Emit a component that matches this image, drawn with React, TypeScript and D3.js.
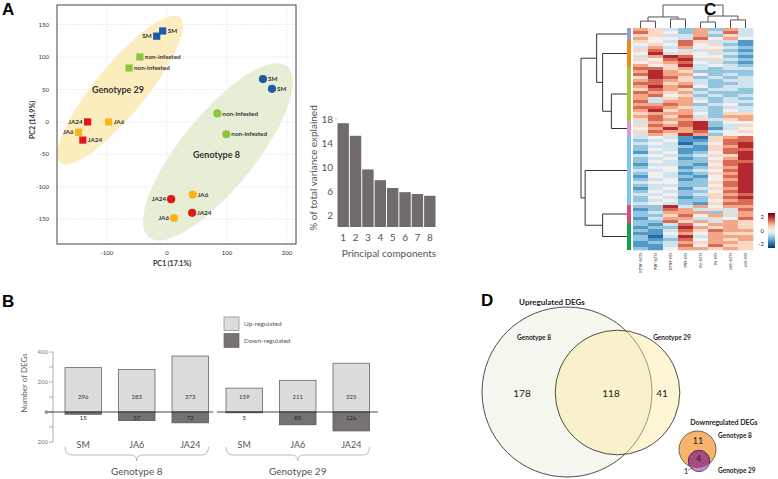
import React from 'react';
import * as d3 from 'd3';

const W = 778, H = 479;
const FONT = "Lato, 'Open Sans', 'Liberation Sans', sans-serif";
const BOLDF = "'Liberation Sans', Arial, sans-serif";

// ---------- Panel A: PCA ----------
const pcaG29 = [
  { cond: 'SM', pc1: -17, pc2: 132 },
  { cond: 'SM', pc1: -7, pc2: 140 },
  { cond: 'non-infested', pc1: -45, pc2: 100 },
  { cond: 'non-infested', pc1: -63, pc2: 83 },
  { cond: 'JA24', pc1: -132, pc2: 0 },
  { cond: 'JA24', pc1: -140, pc2: -28 },
  { cond: 'JA6', pc1: -97, pc2: 0 },
  { cond: 'JA6', pc1: -147, pc2: -16 },
];
const g29Side = ['left', 'right', 'right', 'right', 'left', 'right', 'right', 'left'];
const pcaG8 = [
  { cond: 'SM', pc1: 160, pc2: 66 },
  { cond: 'SM', pc1: 175, pc2: 51 },
  { cond: 'non-infested', pc1: 84, pc2: 13 },
  { cond: 'non-infested', pc1: 99, pc2: -19 },
  { cond: 'JA24', pc1: 7, pc2: -119 },
  { cond: 'JA24', pc1: 42, pc2: -140 },
  { cond: 'JA6', pc1: 43, pc2: -112 },
  { cond: 'JA6', pc1: 12, pc2: -148 },
];
const g8Side = ['right', 'right', 'right', 'right', 'left', 'right', 'right', 'left'];
const condColor: Record<string, string> = {
  SM: '#1f5aa8', 'non-infested': '#8cc63e', JA24: '#e3161b', JA6: '#fbb416',
};
const pcXTicks = [-100, 0, 100, 200];
const pcYTicks = [-150, -100, -50, 0, 50, 100, 150];

// ---------- Scree ----------
const screeComponents = [1, 2, 3, 4, 5, 6, 7, 8];
const screeVariance = [17.3, 15.2, 9.6, 7.8, 6.5, 5.8, 5.5, 5.2];
const screeTicks = [2, 6, 10, 14, 18];

// ---------- Panel B ----------
const degSamples = ['SM', 'JA6', 'JA24'];
const degGenotypes = ['Genotype 8', 'Genotype 29'];
const degUpG8 = [296, 283, 373];
const degDownG8 = [15, 57, 72];
const degUpG29 = [159, 211, 325];
const degDownG29 = [5, 85, 126];
const degTicks = [-200, -100, 0, 100, 200, 300, 400];
const degLabelTicks = [-200, 0, 200, 400];

// ---------- Panel C: heatmap ----------
const heatCols = ['G29-JA24', 'G29-JA6', 'G8-JA24', 'G8-JA6', 'G29-NI', 'G8-NI', 'G29-SM', 'G8-SM'];
// digits 0..8 -> z-score (d-4)/2
const blockLavender = ['65326263', '75426373', '55336253', '64437464'];
const blockOrange = ['54375331', '45474521', '36364432', '57433521', '48354332', '36874421', '54783532', '45674321', '64583432'];
const blockLime = ['77563233', '68652222', '78664232', '58752323', '67653233', '77563223', '68674233', '57652332', '76563222',
  '67452323', '63563232', '73664233', '66762342', '77653233', '68563243', '56664255', '67573266', '57665356'];
const blockPink = ['36578244', '57678235', '46868134', '57667345', '36586244'];
const blockSky = ['34310567', '23411577', '34302478', '23321568', '24311577', '13412478', '34323558', '23412468', '24322577',
  '13321478', '24412568', '33423478', '24312568', '14321478', '23412468', '34422578', '23322478', '13413568', '24322478',
  '33423567', '24312578', '23422467', '34321577'];
const blockMagenta = ['22836466', '12763537', '23666256', '22574636', '13663547', '22756365'];
const blockGreen = ['21374665', '12286565', '21375766', '11464655', '20383666', '21274656', '12365665', '11374755', '21466565'];
const heatBlocks = [blockLavender, blockOrange, blockLime, blockPink, blockSky, blockMagenta, blockGreen];
const blockColors = ['#8e9fd5', '#f08a1d', '#a6c63b', '#e09bc9', '#7dc4ef', '#e5457d', '#15a04a'];
// column dendrogram (merge heights)
const colTree = { h: 10, c: [{ h: 4.8, c: [{ h: 3.0, c: [0, 1] }, { h: 3.9, c: [2, 3] }] }, { h: 5.2, c: [{ h: 2.6, c: [4, 5] }, { h: 3.5, c: [6, 7] }] }] };
// row dendrogram over the 7 blocks
const rowTree = { h: 10, c: [{ h: 6.6, c: [0, { h: 5.3, c: [1, { h: 3.4, c: [2, 3] }] }] }, { h: 9.1, c: [4, { h: 5.3, c: [5, 6] }] }] };
const keyTicks = [2, 0, -2];

// ---------- Panel D: Venn ----------
const upOnlyG8 = 178, upShared = 118, upOnlyG29 = 41;
const downOnlyG8 = 11, downShared = 4, downOnlyG29 = 1;

function dendroLines(node: any, pos: (i: number) => number, hpos: (h: number) => number, vertical: boolean) {
  const segs: string[] = [];
  function rec(n: any): { p: number; h: number } {
    if (typeof n === 'number') return { p: pos(n), h: 0 };
    const kids = n.c.map(rec);
    const p = (kids[0].p + kids[1].p) / 2;
    const hp = hpos(n.h);
    kids.forEach((k: any) => {
      const kh = hpos(k.h);
      if (vertical) segs.push(`M${k.p},${kh}V${hp}`);
      else segs.push(`M${kh},${k.p}H${hp}`);
    });
    if (vertical) segs.push(`M${kids[0].p},${hp}H${kids[1].p}`);
    else segs.push(`M${hp},${kids[0].p}V${kids[1].p}`);
    return { p, h: n.h };
  }
  rec(node);
  return segs.join('');
}

export default function App() {
  // ---- PCA scales
  const x = d3.scaleLinear().domain([-183, 215]).range([57, 296]);
  const y = d3.scaleLinear().domain([-188, 180]).range([244, 5]);

  const renderPoints = (pts: any[], sides: string[], square: boolean) =>
    pts.map((p, i) => {
      const px = x(p.pc1), py = y(p.pc2);
      const left = sides[i] === 'left';
      return (
        <g key={i}>
          {square ? (
            <rect x={px - 3.6} y={py - 3.6} width={7.2} height={7.2} fill={condColor[p.cond]} />
          ) : (
            <circle cx={px} cy={py} r={4.1} fill={condColor[p.cond]} />
          )}
          <text x={left ? px - 5 : px + 5} y={py} dy="0.35em" textAnchor={left ? 'end' : 'start'}
            fontSize={6.3} fontWeight={700} fill="#333">{p.cond}</text>
        </g>
      );
    });

  // ---- Scree
  const sx = d3.scaleBand<number>().domain(screeComponents).range([337.5, 435.5]).paddingInner(0.08);
  const sy = d3.scaleLinear().domain([0, 18]).range([227, 119]);

  // ---- DEG bars
  const by = d3.scaleLinear().domain([-200, 400]).range([442, 352]);
  const bx8 = d3.scaleBand<string>().domain(degSamples).range([65, 208.5]).paddingInner(0.318).paddingOuter(0);
  const bx29 = d3.scaleBand<string>().domain(degSamples).range([226, 369.5]).paddingInner(0.318).paddingOuter(0);
  const groups = [
    { g: degGenotypes[0], sc: bx8, up: degUpG8, down: degDownG8, line: [45, 213] },
    { g: degGenotypes[1], sc: bx29, up: degUpG29, down: degDownG29, line: [217, 378] },
  ];

  // ---- heatmap
  const rows: number[][] = [];
  heatBlocks.forEach((b) => b.forEach((r) => { rows.push(r.split('').map((c) => (+c - 4) / 2)); }));
  const hx = d3.scaleBand<string>().domain(heatCols).range([633, 753]);
  const hy = d3.scaleBand<number>().domain(d3.range(rows.length)).range([28, 250]);
  const heatColor = d3.scaleSequential((t: number) => d3.interpolateRdBu(1 - t)).domain([-2.6, 2.6]);
  const blockStart: number[] = [], blockEnd: number[] = [];
  let acc = 0;
  heatBlocks.forEach((b, i) => { blockStart[i] = hy(acc)!; acc += b.length; blockEnd[i] = hy(acc - 1)! + hy.bandwidth(); });
  const colDendro = dendroLines(colTree, (i) => hx(heatCols[i])! + hx.bandwidth() / 2,
    d3.scaleLinear().domain([0, 10]).range([28, 5]), true);
  const rowDendro = dendroLines(rowTree, (i) => (blockStart[i] + blockEnd[i]) / 2,
    d3.scaleLinear().domain([0, 10]).range([627, 581]), false);
  const keyY = d3.scaleLinear().domain([-2.6, 2.6]).range([248, 213]);

  // ---- Venn
  const rUp = d3.scaleSqrt().domain([0, 296]).range([0, 85]);
  const rDown = d3.scaleSqrt().domain([0, 15]).range([0, 18.5]);
  const upR8 = rUp(upOnlyG8 + upShared), upR29 = rUp(upOnlyG29 + upShared);
  const dR8 = rDown(downOnlyG8 + downShared), dR29 = rDown(downOnlyG29 + downShared);
  const c8 = { x: 567, y: 392 }, c29 = { x: 617.5, y: 392.5 };
  const d8 = { x: 697.5, y: 449.5 }, d29 = { x: 699, y: 461 };

  return (
    <svg width={W} height={H} style={{ position: 'absolute', left: 0, top: 0, background: '#fff' }} fontFamily={FONT}>
      <defs>
        <clipPath id="pcaClip"><rect x={57} y={5} width={239} height={239} /></clipPath>
        <clipPath id="down8"><circle cx={d8.x} cy={d8.y} r={dR8} /></clipPath>
        <linearGradient id="keyGrad" x1="0" y1="1" x2="0" y2="0">
          {d3.range(0, 1.01, 0.1).map((t) => (
            <stop key={t} offset={t} stopColor={heatColor(-2.6 + t * 5.2)} />
          ))}
        </linearGradient>
      </defs>

      {/* ===== Panel A ===== */}
      <text x={2} y={15} fontSize={17} fontWeight={700} fontFamily={BOLDF}>A</text>
      <g clipPath="url(#pcaClip)">
        {pcXTicks.map((t) => <line key={t} x1={x(t)} x2={x(t)} y1={5} y2={244} stroke="#ddd" strokeWidth={0.7} strokeDasharray="1.5,1.5" />)}
        {pcYTicks.map((t) => <line key={t} x1={57} x2={296} y1={y(t)} y2={y(t)} stroke="#ddd" strokeWidth={0.7} strokeDasharray="1.5,1.5" />)}
        <ellipse cx={x(-78)} cy={y(49)} rx={94} ry={25} fill="#fcebb8" opacity={0.9}
          transform={`rotate(-50.6 ${x(-78)} ${y(49)})`} />
        <ellipse cx={x(85)} cy={y(-46)} rx={110} ry={37} fill="#e3edd2" opacity={0.9}
          transform={`rotate(-51 ${x(85)} ${y(-46)})`} />
        <text x={118} y={93} textAnchor="middle" fontSize={9} fontWeight={700} fill="#333">Genotype 29</text>
        <text x={216.5} y={158} textAnchor="middle" fontSize={9} fontWeight={700} fill="#333">Genotype 8</text>
        {renderPoints(pcaG29, g29Side, true)}
        {renderPoints(pcaG8, g8Side, false)}
      </g>
      <rect x={57} y={5} width={239} height={239} fill="none" stroke="#444" strokeWidth={1} />
      {pcXTicks.map((t) => <text key={t} x={x(t)} y={255} textAnchor="middle" fontSize={6} fill="#333">{t}</text>)}
      {pcYTicks.map((t) => <text key={t} x={49} y={y(t)} dy="0.35em" textAnchor="end" fontSize={6} fill="#333">{t}</text>)}
      <text x={172} y={266} textAnchor="middle" fontSize={7} fontWeight={700} fill="#333">PC1 (17.1%)</text>
      <text transform="translate(35,120) rotate(-90)" textAnchor="middle" fontSize={7} fontWeight={700} fill="#333">PC2 (14.9%)</text>

      {/* ===== Scree ===== */}
      {screeComponents.map((c, i) => (
        <rect key={c} x={sx(c)} y={sy(screeVariance[i])} width={sx.bandwidth()} height={sy(0) - sy(screeVariance[i])} fill="#716c6b" />
      ))}
      {screeTicks.map((t) => (
        <text key={t} x={333} y={sy(t)} dy="0.35em" textAnchor="end" fontSize={10} fill="#555">{t}</text>
      ))}
      <line x1={335} x2={338} y1={sy(18)} y2={sy(18)} stroke="#bbb" strokeWidth={0.6} />
      {screeComponents.map((c) => (
        <text key={c} x={sx(c)! + sx.bandwidth() / 2} y={241} textAnchor="middle" fontSize={10} fill="#555">{c}</text>
      ))}
      <text x={389} y={257} textAnchor="middle" fontSize={10} fill="#555">Principal components</text>
      <text transform="translate(317,168) rotate(-90)" textAnchor="middle" fontSize={10} fill="#555">% of total variance explained</text>

      {/* ===== Panel B ===== */}
      <text x={2} y={307} fontSize={17} fontWeight={700} fontFamily={BOLDF}>B</text>
      <rect x={224} y={317} width={15} height={13.5} fill="#dcdcdc" stroke="#888" strokeWidth={0.7} />
      <rect x={224} y={333.5} width={15} height={14} fill="#767272" stroke="#666" strokeWidth={0.7} />
      <text x={244} y={323.5} dy="0.35em" fontSize={6.5} fill="#555">Up-regulated</text>
      <text x={244} y={340.5} dy="0.35em" fontSize={6.5} fill="#555">Down-regulated</text>
      <line x1={53} x2={53} y1={by(400)} y2={by(-200)} stroke="#999" strokeWidth={0.8} />
      {degTicks.map((t) => <line key={t} x1={49} x2={53} y1={by(t)} y2={by(t)} stroke="#999" strokeWidth={0.8} />)}
      {degLabelTicks.map((t) => <text key={t} x={48} y={by(t)} dy="0.35em" textAnchor="end" fontSize={6} fill="#777">{Math.abs(t)}</text>)}
      <text transform="translate(27,383) rotate(-90)" textAnchor="middle" fontSize={8} fill="#666">Number of DEGs</text>
      {groups.map((g) => {
        const [a, b] = g.sc.range();
        const mid = (a + b) / 2;
        return (
          <g key={g.g}>
            {degSamples.map((s, i) => {
              const bx = g.sc(s)!, bw = g.sc.bandwidth();
              return (
                <g key={s}>
                  <rect x={bx} y={by(g.up[i])} width={bw} height={by(0) - by(g.up[i])} fill="#dcdcdc" stroke="#666" strokeWidth={0.8} />
                  <rect x={bx} y={by(0)} width={bw} height={by(-g.down[i]) - by(0)} fill="#767272" stroke="#555" strokeWidth={0.8} />
                  <text x={bx + bw / 2} y={397} dy="0.35em" textAnchor="middle" fontSize={6} fill="#333">{g.up[i]}</text>
                  <text x={bx + bw / 2} y={418} dy="0.35em" textAnchor="middle" fontSize={6} fill="#222">{g.down[i]}</text>
                  <text x={bx + bw / 2} y={445} dy="0.35em" textAnchor="middle" fontSize={9} fill="#555">{s}</text>
                </g>
              );
            })}
            <line x1={g.line[0]} x2={g.line[1]} y1={by(0)} y2={by(0)} stroke="#333" strokeWidth={0.9} />
            <path d={`M${a},447 Q${a},455 ${a + 7},455 L${mid - 6},455 Q${mid},455 ${mid},461 Q${mid},455 ${mid + 6},455 L${b - 7},455 Q${b},455 ${b},447`}
              fill="none" stroke="#aaa" strokeWidth={0.8} />
            <text x={mid} y={475} textAnchor="middle" fontSize={10} fill="#555">{g.g}</text>
          </g>
        );
      })}

      {/* ===== Panel C ===== */}
      <text x={704} y={15} fontSize={17} fontWeight={700} fontFamily={BOLDF}>C</text>
      {rows.map((r, ri) => r.map((v, ci) => (
        <rect key={`${ri}-${ci}`} x={hx(heatCols[ci])} y={hy(ri)} width={hx.bandwidth() + 0.3} height={hy.bandwidth() + 0.3} fill={heatColor(v)} />
      )))}
      {heatBlocks.map((b, i) => (
        <rect key={i} x={627} y={blockStart[i]} width={4} height={blockEnd[i] - blockStart[i]} fill={blockColors[i]} />
      ))}
      <path d={colDendro} fill="none" stroke="#555" strokeWidth={1} />
      <path d={rowDendro} fill="none" stroke="#333" strokeWidth={1} />
      {heatCols.map((c) => (
        <text key={c} transform={`translate(${hx(c)! + hx.bandwidth() / 2 - 1.5},253) rotate(90)`} fontSize={4.5} fill="#333">{c}</text>
      ))}
      <rect x={768} y={213} width={7} height={35} fill="url(#keyGrad)" />
      {keyTicks.map((t) => (
        <text key={t} x={764} y={keyY(t)} dy="0.35em" textAnchor="end" fontSize={6} fill="#333">{t}</text>
      ))}

      {/* ===== Panel D ===== */}
      <text x={481} y={306} fontSize={17} fontWeight={700} fontFamily={BOLDF}>D</text>
      <text x={552} y={305} textAnchor="middle" fontSize={8} fontWeight={700} fill="#222">Upregulated DEGs</text>
      <circle cx={c8.x} cy={c8.y} r={upR8} fill="#f6f8ef" stroke="#222" strokeWidth={0.8} />
      <circle cx={c29.x} cy={c29.y} r={upR29} fill="#fde89f" fillOpacity={0.45} stroke="#222" strokeWidth={0.8} />
      <text x={534} y={340} textAnchor="middle" fontSize={6.5} fontWeight={700} fill="#222">Genotype 8</text>
      <text x={672} y={340} textAnchor="middle" fontSize={6.5} fontWeight={700} fill="#222">Genotype 29</text>
      <text x={522} y={393} dy="0.35em" textAnchor="middle" fontSize={10} fill="#222">{upOnlyG8}</text>
      <text x={611} y={393} dy="0.35em" textAnchor="middle" fontSize={10} fill="#222">{upShared}</text>
      <text x={662} y={393} dy="0.35em" textAnchor="middle" fontSize={10} fill="#222">{upOnlyG29}</text>

      <text x={724} y={425} textAnchor="middle" fontSize={7} fontWeight={700} fill="#222">Downregulated DEGs</text>
      <circle cx={d8.x} cy={d8.y} r={dR8} fill="#f7b46c" stroke="#333" strokeWidth={0.7} />
      <circle cx={d29.x} cy={d29.y} r={dR29} fill="#b98bcf" stroke="#333" strokeWidth={0.7} />
      <circle cx={d29.x} cy={d29.y} r={dR29} fill="#a8497f" clipPath="url(#down8)" stroke="#333" strokeWidth={0.7} />
      <text x={698} y={441} dy="0.35em" textAnchor="middle" fontSize={9} fill="#222">{downOnlyG8}</text>
      <text x={698.5} y={459} dy="0.35em" textAnchor="middle" fontSize={9} fill="#222">{downShared}</text>
      <text x={686} y={471} dy="0.35em" textAnchor="middle" fontSize={8} fill="#222">{downOnlyG29}</text>
      <line x1={688} y1={470} x2={693} y2={468} stroke="#333" strokeWidth={0.5} />
      <text x={718} y={436} dy="0.35em" fontSize={6.5} fontWeight={700} fill="#222">Genotype 8</text>
      <text x={718} y={471} dy="0.35em" fontSize={6.5} fontWeight={700} fill="#222">Genotype 29</text>
    </svg>
  );
}
